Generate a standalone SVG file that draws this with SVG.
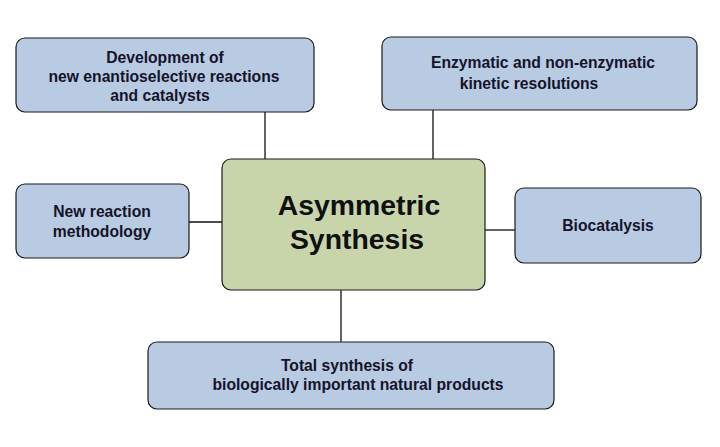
<svg xmlns="http://www.w3.org/2000/svg" width="720" height="447" viewBox="0 0 720 447">
<defs>
<style>
.box{fill:#b9cae3;stroke:#1a1a1a;stroke-width:1.2}
.main{fill:#c8d5ab;stroke:#1a1a1a;stroke-width:1.2}
.t{font-family:"Liberation Sans",Arial,sans-serif;font-weight:bold;font-size:15.7px;fill:#14142a;text-anchor:middle}
.tm{font-family:"Liberation Sans",Arial,sans-serif;font-weight:bold;font-size:28.4px;fill:#101010;text-anchor:middle}
.c{stroke:#111;stroke-width:1.3;fill:none}
</style>
</defs>
<rect width="720" height="447" fill="#ffffff"/>
<g id="connectors">
<line class="c" x1="265" y1="112" x2="265" y2="159"/>
<line class="c" x1="433" y1="110" x2="433" y2="159"/>
<line class="c" x1="189" y1="222" x2="222" y2="222"/>
<line class="c" x1="485" y1="230" x2="515" y2="230"/>
<line class="c" x1="341" y1="290" x2="341" y2="342"/>
</g>
<g id="node-development">
<rect class="box" x="16" y="38" width="298" height="74" rx="9"/>
<text class="t" x="165" y="63">Development of</text>
<text class="t" x="164" y="82">new enantioselective reactions</text>
<text class="t" x="160" y="101">and catalysts</text>
</g>
<g id="node-enzymatic">
<rect class="box" x="382" y="37" width="315" height="73" rx="9"/>
<text class="t" x="543" y="68">Enzymatic and non-enzymatic</text>
<text class="t" x="529" y="89">kinetic resolutions</text>
</g>
<g id="node-main">
<rect class="main" x="222" y="159" width="263" height="131" rx="9"/>
<text class="tm" x="359" y="215">Asymmetric</text>
<text class="tm" x="357" y="249">Synthesis</text>
</g>
<g id="node-new-reaction">
<rect class="box" x="16" y="184" width="173" height="74" rx="9"/>
<text class="t" x="102" y="217">New reaction</text>
<text class="t" x="102" y="237">methodology</text>
</g>
<g id="node-biocatalysis">
<rect class="box" x="515" y="188" width="186" height="75" rx="9"/>
<text class="t" x="608" y="231">Biocatalysis</text>
</g>
<g id="node-total">
<rect class="box" x="148" y="342" width="406" height="67" rx="9"/>
<text class="t" x="347" y="371">Total synthesis of</text>
<text class="t" x="358" y="390">biologically important natural products</text>
</g>
</svg>
